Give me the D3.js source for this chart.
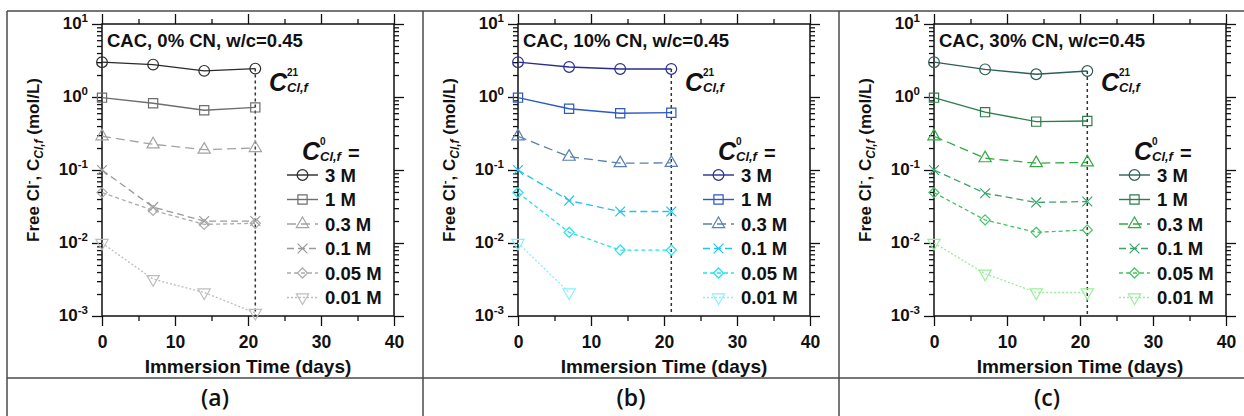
<!DOCTYPE html>
<html lang="en">
<head>
<meta charset="utf-8">
<title>Free chloride vs immersion time</title>
<script src="https://d3js.org/d3.v7.min.js"></script>
<style>
  body { margin: 0; background: #fff; }
  text { font-family: "Liberation Sans", Arial, sans-serif; font-weight: bold; }
  text.tag { font-family: "Open Sans", sans-serif; font-weight: 600; }
</style>
</head>
<body>
<div id="chart"></div>
<script>
// ---- data ----
const days = [0, 7, 14, 21];
const concLabels = ["3 M", "1 M", "0.3 M", "0.1 M", "0.05 M", "0.01 M"];
const panelTitles = ["CAC, 0% CN, w/c=0.45", "CAC, 10% CN, w/c=0.45", "CAC, 30% CN, w/c=0.45"];
const panelTags = ["(a)", "(b)", "(c)"];

// free chloride (mol/L) per series, panel a (0% CN)
const cn0 = [
  [3.0, 2.78, 2.28, 2.45],
  [0.98, 0.82, 0.66, 0.72],
  [0.29, 0.225, 0.19, 0.20],
  [0.10, 0.031, 0.020, 0.020],
  [0.049, 0.028, 0.018, 0.0186],
  [0.010, 0.0032, 0.0021, 0.0011]
];
// panel b (10% CN)
const cn10 = [
  [3.0, 2.58, 2.42, 2.42],
  [0.98, 0.69, 0.60, 0.61],
  [0.29, 0.152, 0.124, 0.125],
  [0.10, 0.038, 0.027, 0.027],
  [0.049, 0.014, 0.008, 0.008],
  [0.010, 0.0021]
];
// panel c (30% CN)
const cn30 = [
  [3.0, 2.39, 2.05, 2.27],
  [0.98, 0.62, 0.46, 0.47],
  [0.29, 0.145, 0.124, 0.127],
  [0.10, 0.048, 0.036, 0.037],
  [0.049, 0.0207, 0.014, 0.0151],
  [0.010, 0.0038, 0.0021, 0.0021]
];
const panelData = [cn0, cn10, cn30];

const colorsA = ["#2a2a2a", "#6e6e6e", "#a3a3a3", "#9a9a9a", "#ababab", "#bdbdbd"];
const colorsB = ["#2a2d8f", "#2c59c2", "#5a7fb0", "#22c4ee", "#22e2ee", "#88f0fc"];
const colorsC = ["#2f5e56", "#2d7d4c", "#34a846", "#3ba46c", "#44c266", "#99ee99"];
const panelColors = [colorsA, colorsB, colorsC];

const dashes = [null, null, "9,5", "7,4", "4,3", "2,2"];
const yTicks = [1e-3, 1e-2, 1e-1, 1e0, 1e1];
const xTicks = [0, 10, 20, 30, 40];

// ---- layout ----
const W = 1244, H = 416;
const cellW = 416;
const plotL = 102, plotR = 394, plotT = 24, plotB = 316;

const svg = d3.select("#chart").append("svg")
  .attr("width", W).attr("height", H);

// table frame
const frame = svg.append("g").attr("stroke", "#4a4a4a").attr("stroke-width", 1.5);
frame.append("line").attr("x1", 7).attr("x2", W).attr("y1", 11).attr("y2", 11);
frame.append("line").attr("x1", 7).attr("x2", W).attr("y1", 378).attr("y2", 378);
[7, 423, 839].forEach(x => frame.append("line").attr("x1", x).attr("x2", x).attr("y1", 11).attr("y2", H));

// marker shapes
const sym = [d3.symbolCircle, d3.symbolSquare, d3.symbolTriangle, d3.symbolTimes || d3.symbolX, d3.symbolDiamond2 || d3.symbolDiamond, d3.symbolTriangle];
const symSize = [90, 85, 65, 65, 65, 65];

function addMarker(g, i, x, y, col) {
  g.append("path")
    .attr("d", d3.symbol().type(sym[i]).size(symSize[i])())
    .attr("transform", `translate(${x},${y})` + (i === 5 ? " rotate(180)" : ""))
    .attr("fill", "none")
    .attr("stroke", col)
    .attr("stroke-width", 1.2);
}

function cLabel(g, x, y, sup) {
  g.append("text").attr("x", x).attr("y", y).attr("fill", "#111")
    .attr("font-size", 25).attr("font-style", "italic").text("C");
  const cx = x + 18;
  g.append("text").attr("x", cx).attr("y", y - 15).attr("font-size", 10).attr("fill", "#111").text(sup);
  g.append("text").attr("x", cx).attr("y", y + 1).attr("font-size", 13).attr("font-style", "italic").attr("fill", "#111").text("Cl,f");
}

panelData.forEach((series, p) => {
  const off = p * cellW;
  const cols = panelColors[p];
  const g = svg.append("g");

  const x = d3.scaleLinear().domain([0, 40]).range([plotL + off, plotR + off]);
  const y = d3.scaleLog().domain([1e-3, 1e1]).range([plotB, plotT]);

  // minor log ticks
  const minor = [];
  for (let e = -3; e < 1; e++) for (let m = 2; m < 10; m++) minor.push(m * Math.pow(10, e));

  const axes = g.append("g");
  axes.append("g").attr("transform", `translate(${plotL + off},0)`)
    .call(d3.axisLeft(y).tickValues(minor).tickSize(5).tickFormat(""));
  axes.append("g").attr("transform", `translate(${plotR + off},0)`)
    .call(d3.axisRight(y).tickValues(minor).tickSize(5).tickFormat(""));
  axes.append("g").attr("transform", `translate(${plotR + off},0)`)
    .call(d3.axisRight(y).tickValues(yTicks).tickSize(10).tickFormat(""));
  axes.append("g").attr("transform", `translate(${plotL + off},0)`)
    .call(d3.axisLeft(y).tickValues(yTicks).tickSize(10).tickFormat(""));
  axes.append("g").attr("transform", `translate(0,${plotB})`)
    .call(d3.axisBottom(x).tickValues([5, 15, 25, 35]).tickSize(5).tickFormat(""));
  axes.append("g").attr("transform", `translate(0,${plotT})`)
    .call(d3.axisTop(x).tickValues([5, 15, 25, 35]).tickSize(5).tickFormat(""));
  axes.append("g").attr("transform", `translate(0,${plotT})`)
    .call(d3.axisTop(x).tickValues(xTicks).tickSize(10).tickFormat(""));
  const xAx = axes.append("g").attr("transform", `translate(0,${plotB})`)
    .call(d3.axisBottom(x).tickValues(xTicks).tickSize(10).tickPadding(10));
  axes.selectAll(".domain").remove();
  axes.selectAll("line").attr("stroke", "#111").attr("stroke-width", 1.3);
  xAx.selectAll("text").attr("font-size", 17.5).attr("font-family", null)
    .attr("fill", "#111");

  // y tick labels 10^n
  yTicks.forEach(v => {
    const e = Math.round(Math.log10(v));
    const t = g.append("text").attr("x", plotL + off - 14).attr("y", y(v) + 5)
      .attr("text-anchor", "end").attr("fill", "#111").attr("font-size", 17);
    t.append("tspan").text("10");
    t.append("tspan").attr("font-size", 11.5).attr("dy", -7).text(e);
  });

  // plot box
  g.append("rect").attr("x", plotL + off).attr("y", plotT)
    .attr("width", plotR - plotL).attr("height", plotB - plotT)
    .attr("fill", "none").attr("stroke", "#111").attr("stroke-width", 1.5);

  // dashed line at day 21
  g.append("line").attr("x1", x(21)).attr("x2", x(21))
    .attr("y1", y(series[0][3])).attr("y2", plotB)
    .attr("stroke", "#333").attr("stroke-width", 1.5).attr("stroke-dasharray", "3,3");

  // series
  const line = d3.line().x((d, i) => x(days[i])).y(d => y(d));
  series.forEach((vals, i) => {
    g.append("path").datum(vals).attr("d", line)
      .attr("fill", "none").attr("stroke", cols[i]).attr("stroke-width", i < 2 ? 1.4 : 1.3)
      .attr("stroke-dasharray", dashes[i]);
    vals.forEach((v, k) => addMarker(g, i, x(days[k]), y(v), cols[i]));
  });

  // panel title
  g.append("text").attr("x", plotL + off + 5).attr("y", 47).attr("font-size", 18.5)
    .attr("fill", "#111").text(panelTitles[p]);

  // C^21 label
  cLabel(g, plotL + off + 167, 91, "21");

  // legend
  const lg = g.append("g");
  cLabel(lg, plotL + off + 200, 160, "0");
  lg.append("text").attr("x", plotL + off + 246).attr("y", 160).attr("font-size", 20)
    .attr("fill", "#111").text("=");
  concLabels.forEach((lab, i) => {
    const ly = 175 + i * 24.5;
    const lx0 = plotL + off + 185, lx1 = plotL + off + 216;
    lg.append("line").attr("x1", lx0).attr("x2", lx1).attr("y1", ly).attr("y2", ly)
      .attr("stroke", cols[i]).attr("stroke-width", 1.4).attr("stroke-dasharray", dashes[i]);
    addMarker(lg, i, (lx0 + lx1) / 2, ly, cols[i]);
    lg.append("text").attr("x", plotL + off + 223).attr("y", ly + 6.5).attr("font-size", 18.5)
      .attr("fill", "#111").text(lab);
  });

  // axis titles
  g.append("text").attr("x", (plotL + plotR) / 2 + off).attr("y", 373)
    .attr("text-anchor", "middle").attr("font-size", 19).attr("fill", "#111")
    .text("Immersion Time (days)");

  const yt = g.append("text")
    .attr("transform", `translate(${off + 39},${(plotT + plotB) / 2 - 10}) rotate(-90)`)
    .attr("text-anchor", "middle").attr("font-size", 17).attr("fill", "#111");
  yt.append("tspan").text("Free Cl");
  yt.append("tspan").attr("font-size", 11.5).attr("dy", -7).text("-");
  yt.append("tspan").attr("dy", 7).text(", C");
  yt.append("tspan").attr("font-size", 12).attr("font-style", "italic").attr("dy", 4).text("Cl,f");
  yt.append("tspan").attr("dy", -4).text(" (mol/L)");

  // panel tag
  svg.append("text").attr("class", "tag").attr("x", 215 + off).attr("y", 406).attr("text-anchor", "middle")
    .attr("font-size", 23).attr("fill", "#111").text(panelTags[p]);
});
</script>
</body>
</html>
